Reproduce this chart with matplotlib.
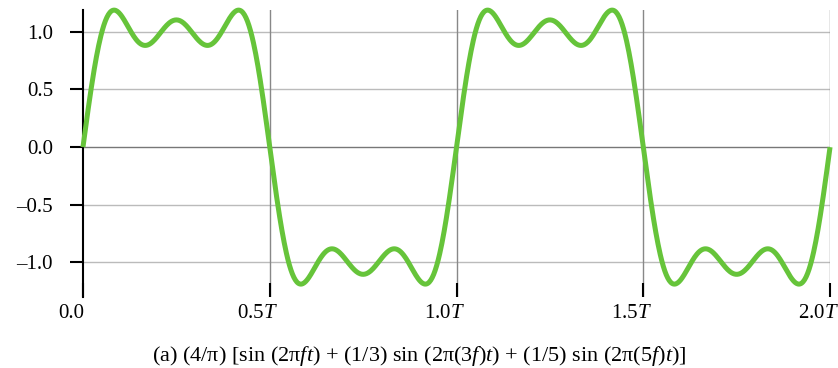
import numpy as np
import matplotlib.pyplot as plt
from matplotlib.transforms import ScaledTranslation

plt.rcParams['font.family'] = ['Liberation Serif', 'DejaVu Serif']
plt.rcParams['mathtext.fontset'] = 'custom'
plt.rcParams['mathtext.rm'] = 'Liberation Serif'
plt.rcParams['mathtext.it'] = 'Liberation Serif:italic'

# harmonics from the caption: (4/pi)[sin(2pi f t) + 1/3 sin(2pi 3f t) + 1/5 sin(2pi 5f t)]
harmonics = [1, 3, 5]
weights = [1.0, 1 / 3, 1 / 5]
x_ticks = [0.0, 0.5, 1.0, 1.5, 2.0]
x_labels = ['0.0', '0.5$T$', '1.0$T$', '1.5$T$', '2.0$T$']
y_ticks = [-1.0, -0.5, 0.0, 0.5, 1.0]
y_labels = ['\u20131.0', '\u20130.5', '0.0', '0.5', '1.0']

t = np.linspace(0, 2, 1000)  # in units of T
y = np.zeros_like(t)
for k, w in zip(harmonics, weights):
    y += w * np.sin(2 * np.pi * k * t)
y *= 4 / np.pi

fig = plt.figure(figsize=(8.38, 3.68), dpi=100)
ax = fig.add_axes([0.099, 0.193, 0.8915, 0.78])

for v in [0.5, 1.0, -0.5, -1.0]:
    ax.axhline(v, color='#bbbbbb', lw=1.0, zorder=1)
ax.axhline(0.0, color='#777777', lw=1.0, zorder=1)
for v in [0.5, 1.0, 1.5, 2.0]:
    ax.axvline(v, color='#888888', lw=1.0, zorder=1)

ax.plot(t, y, color='#66c43a', lw=3.6, solid_capstyle='butt', zorder=3, clip_on=False)

ax.set_xlim(0, 2)
ax.set_ylim(-1.3, 1.19)
ax.set_xticks(x_ticks)
ax.set_xticklabels(x_labels)
ax.set_yticks(y_ticks)
ax.set_yticklabels(y_labels)

for s in ['top', 'right', 'bottom']:
    ax.spines[s].set_visible(False)
ax.spines['left'].set_linewidth(1.5)
ax.tick_params(axis='y', direction='out', length=9.5, width=1.5, labelsize=15, pad=12)
ax.tick_params(axis='x', direction='in', length=10, width=1.5, labelsize=15, pad=5)

# labels in the reference sit a little left of their ticks
shift = ScaledTranslation(-12 / 100, 0, fig.dpi_scale_trans)
for lab in ax.get_xticklabels():
    lab.set_transform(lab.get_transform() + shift)

fig.text(0.5, 0.018, '(a) (4/\u03c0) [sin (2\u03c0$ft$) + (1/3) sin (2\u03c0(3$f$)$t$) + (1/5) sin (2\u03c0(5$f$)$t$)]',
         ha='center', va='baseline', fontsize=16)

fig.savefig('out.png', dpi=100)
